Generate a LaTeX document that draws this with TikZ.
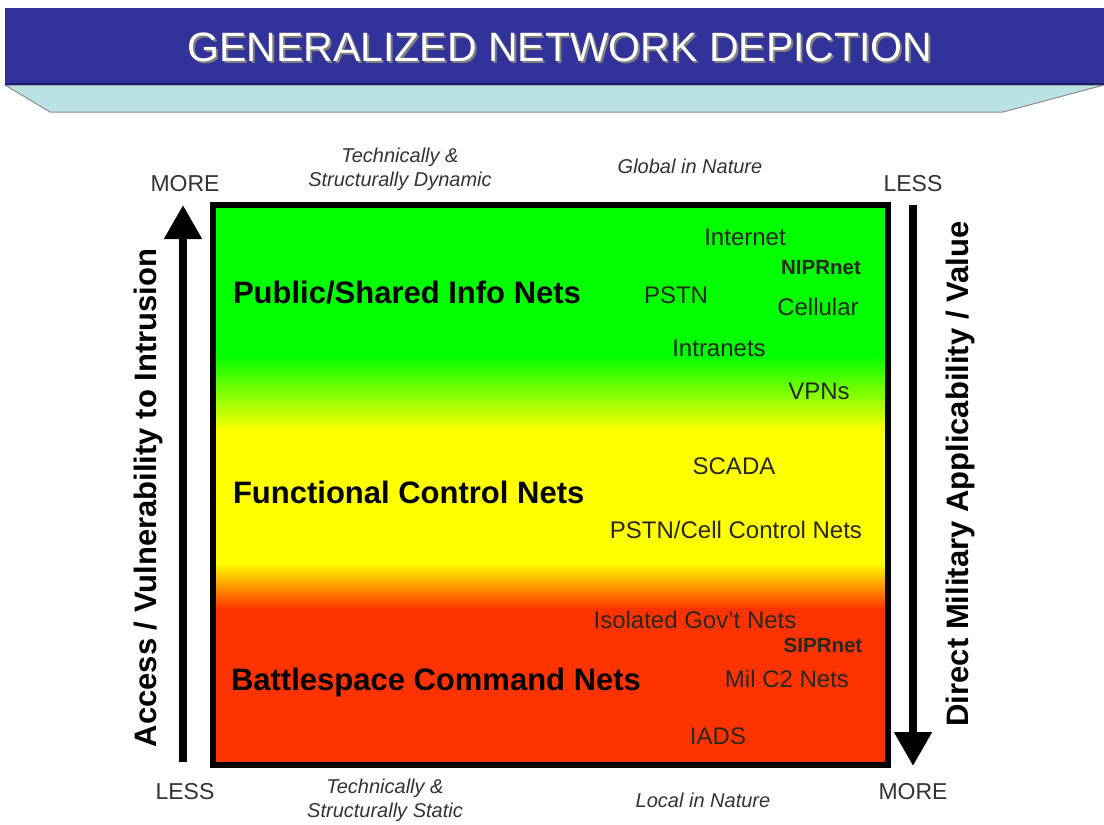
\documentclass[tikz,border=0pt]{standalone}
\usepackage{fontspec}
\setmainfont{Liberation Sans}
\usetikzlibrary{arrows.meta}
\definecolor{bandblue}{RGB}{50,50,155}
\definecolor{banddark}{RGB}{30,30,110}
\definecolor{bandcyan}{RGB}{186,226,229}
\definecolor{netgreen}{RGB}{0,255,0}
\definecolor{netyellow}{RGB}{255,255,0}
\definecolor{netred}{RGB}{255,51,0}
\definecolor{ink}{RGB}{40,40,30}
\begin{document}
\begin{tikzpicture}[x=1pt,y=-1pt,
  every node/.style={inner sep=0pt, outer sep=0pt},
  netlabel/.style={font=\fontsize{24}{28}\selectfont, text=ink},
  netbold/.style={font=\bfseries\fontsize{20.5}{24}\selectfont, text=ink},
  tierlabel/.style={font=\bfseries\fontsize{31}{36}\selectfont, anchor=west},
  axislabel/.style={font=\bfseries\fontsize{31}{36}\selectfont, rotate=90},
  endlabel/.style={font=\fontsize{23}{26}\selectfont, text=black!80},
  notelabel/.style={font=\itshape\fontsize{20}{24}\selectfont, text=black!80, align=center},
  bigarrow/.style={line width=8pt, -{Triangle[width=36pt,length=34pt]}}
]
\useasboundingbox (0,0) rectangle (1104,825);

% title banner
\fill[bandcyan, draw=black!45, line width=1pt] (5,85) -- (1104,85) -- (1003,112) -- (50,112) -- cycle;
\fill[bandblue] (5,8) rectangle (1104,85);
\draw[banddark, line width=2pt] (5,84) -- (1104,84);
\node[font=\fontsize{41}{48}\selectfont, text=black!50] at (562,49) {GENERALIZED NETWORK DEPICTION};
\node (title) [font=\fontsize{41}{48}\selectfont, text=white] at (560,47) {GENERALIZED NETWORK DEPICTION};

% colour bands of the network field
\fill[netgreen] (213,205) rectangle (888,356);
\shade[top color=netgreen, bottom color=netyellow] (213,355) rectangle (888,431);
\fill[netyellow] (213,430) rectangle (888,564);
\shade[top color=netyellow, bottom color=netred] (213,563) rectangle (888,609);
\fill[netred] (213,608) rectangle (888,765);
\draw[line width=6pt] (213,205) rectangle (888,765);

% tier names
\node[tierlabel] (public) at (233,293) {Public/Shared Info Nets};
\node[tierlabel] (functional) at (233,492) {Functional Control Nets};
\node[tierlabel] (battle) at (231,682) {Battlespace Command Nets};

% individual networks
\node[netlabel] (internet) at (745,237) {Internet};
\node[netbold] (nipr) at (821,268) {NIPRnet};
\node[netlabel] (pstn) at (676,295) {PSTN};
\node[netlabel] (cellular) at (818,307) {Cellular};
\node[netlabel] (intranets) at (719,348) {Intranets};
\node[netlabel] (vpns) at (819,391) {VPNs};
\node[netlabel] (scada) at (734,466) {SCADA};
\node[netlabel] (cellctl) at (736,530) {PSTN/Cell Control Nets};
\node[netlabel] (govt) at (695,620) {Isolated Gov't Nets};
\node[netbold] (sipr) at (823,645) {SIPRnet};
\node[netlabel] (milc2) at (787,679) {Mil C2 Nets};
\node[netlabel] (iads) at (718,736) {IADS};

% axes
\coordinate (upfoot) at (183,762);
\coordinate (uptip) at (183,205);
\draw[bigarrow] (upfoot) -- (uptip);
\coordinate (downtop) at (913,205);
\coordinate (downtip) at (913,766);
\draw[bigarrow] (downtop) -- (downtip);

\node[axislabel] (access) at (148,498) {Access / Vulnerability to Intrusion};
\node[axislabel] (military) at (960,474) {Direct Military Applicability / Value};

\node[endlabel] (moreleft) at (185,184) {MORE};
\node[endlabel] (lessright) at (913,184) {LESS};
\node[endlabel] (lessleft) at (185,792) {LESS};
\node[endlabel] (moreright) at (913,792) {MORE};

% descriptive notes
\node[notelabel] (dynamic) at (400,169) {Technically \&\\Structurally Dynamic};
\node[notelabel] (global) at (690,166) {Global in Nature};
\node[notelabel] (static) at (385,800) {Technically \&\\Structurally Static};
\node[notelabel] (local) at (703,800) {Local in Nature};
\end{tikzpicture}
\end{document}
